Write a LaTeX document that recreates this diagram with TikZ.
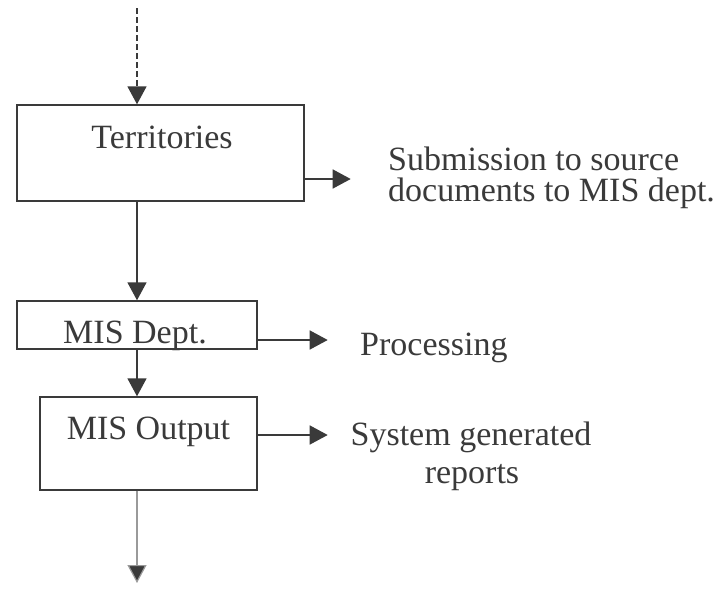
\documentclass[tikz,border=0pt]{standalone}
\usepackage{fontspec}
\setmainfont{Liberation Serif}
\usetikzlibrary{arrows.meta}
\definecolor{ink}{HTML}{3A3A3A}
\definecolor{faint}{HTML}{9A9A9A}
\begin{document}
\begin{tikzpicture}[x=1pt,y=-1pt,
  box/.style={draw=ink,line width=1.4pt,rectangle,inner sep=0pt},
  txt/.style={text=ink,font=\fontsize{34}{41}\selectfont,inner sep=0pt},
  arr/.style={draw=ink,line width=1.5pt,-{Triangle[length=18pt,width=19pt]}}]
\useasboundingbox[fill=white] (0,0) rectangle (723,589);

% process boxes
\node[box,minimum width=287pt,minimum height=96pt] (terr) at (160.5,153) {};
\node[box,minimum width=240pt,minimum height=48pt] (dept) at (137,325) {};
\node[box,minimum width=217pt,minimum height=93pt] (out) at (148.5,443.5) {};

% box titles
\node[txt,anchor=base] (terrt) at (162,148) {Territories};
\node[txt,anchor=base] (deptt) at (135,343) {MIS Dept.};
\node[txt,anchor=base] (outt) at (148.5,439) {MIS Output};

% side notes
\node[txt,anchor=base west] (sub1) at (388,170) {Submission to source};
\node[txt,anchor=base west] (sub2) at (388,201) {documents to MIS dept.};
\node[txt,anchor=base west] (proc) at (360,355) {Processing};
\node[txt,anchor=base] (sys1) at (471,445) {System generated};
\node[txt,anchor=base] (sys2) at (472,483) {reports};

% main flow
\coordinate (top) at (137,8);
\coordinate (bot) at (137,583);
\draw[arr,dash pattern=on 6pt off 3pt] (top) -- (top |- terr.north);
\draw[arr] (terr.south -| top) -- (dept.north);
\draw[arr] (dept.south) -- (dept.south |- out.north);
\draw[arr,draw=faint,line width=1.2pt,{-{Triangle[length=18pt,width=19pt,fill=ink]}}] (out.south -| top) -- (bot);

% outputs to the side
\draw[arr] ([yshift=-26pt]terr.east) -- ++(46,0);
\draw[arr] ([yshift=-15pt]dept.east) -- ++(70,0);
\draw[arr] ([yshift=8.5pt]out.east) -- ++(70,0);
\end{tikzpicture}
\end{document}
